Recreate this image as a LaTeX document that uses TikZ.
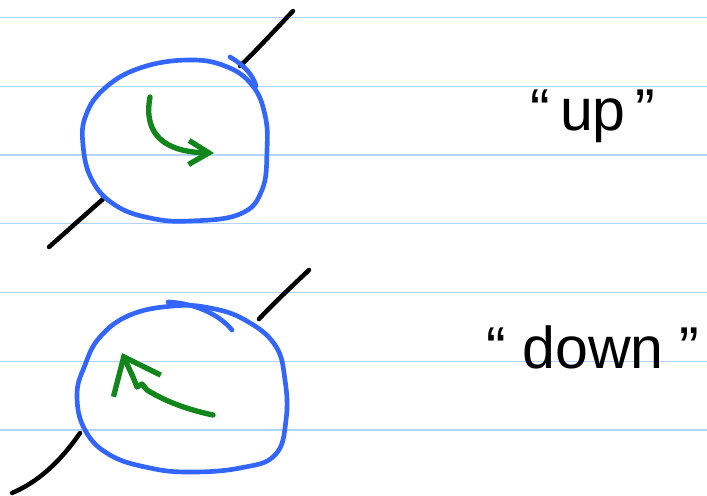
\documentclass[tikz,border=0pt]{standalone}
\usepackage{fontspec}
\setmainfont{Liberation Sans}
\usepackage{tikz}
\usetikzlibrary{arrows.meta}
\definecolor{ruleblue}{HTML}{B4D4FA}
\definecolor{penblue}{HTML}{3366FF}
\definecolor{pengreen}{HTML}{11861A}

\begin{document}
\begin{tikzpicture}[x=0.025cm, y=-0.025cm, line cap=round, line join=round,
    ruling/.style={draw=ruleblue, line width=1pt},
    loop/.style={draw=penblue, line width=3.3pt},
    axle/.style={draw=black, line width=3.2pt},
    spin/.style={draw=pengreen, line width=3.8pt},
    every node/.style={font=\fontsize{42}{50}\selectfont, inner sep=0pt}]
    \useasboundingbox[fill=white] (0,0) rectangle (707,495);
    \foreach \k in {0,...,6}
      \draw[ruling] (0,17.5+68.75*\k) -- (707,17.5+68.75*\k);

    \draw[axle] (293,11) .. controls (275,30) and (255,52) .. (240,66);
    \draw[axle] (103,199) -- (49,247);
    \draw[loop] plot[smooth cycle, tension=0.7] coordinates {(187,60) (140,68) (105,88) (86,115) (83,145) (92,180) (115,205) (150,218) (190,221) (240,214) (262,190) (267,150) (265,115) (252,85) (225,66)};
    \draw[loop] (230,57) .. controls (245,66) and (253,75) .. (256,86);
    \draw[spin, -{Straight Barb[length=5mm, width=6mm]}] (150,97) .. controls (143,135) and (165,152) .. (214,153);
    \node[anchor=base] (up) at (593,130) {``\,up\,''};

    \draw[axle] (309,270) .. controls (290,288) and (272,305) .. (259,319);
    \draw[axle] (80,433) .. controls (60,462) and (38,482) .. (12,493);
    \draw[loop] plot[smooth cycle, tension=0.7] coordinates {(173,306) (130,315) (100,337) (85,365) (77,395) (85,430) (110,455) (150,468) (190,472) (240,468) (275,455) (286,420) (285,380) (275,345) (245,320) (210,308)};
    \draw[loop] (168,302) .. controls (195,303) and (220,315) .. (232,330);
    \draw[spin, -{Straight Barb[length=8mm, width=13mm]}] (213,415) .. controls (180,408) and (160,398) .. (147,390) -- (142,384) -- (137,387) -- (133,377) -- (122,353);
    \node[anchor=base] (down) at (593,368) {``\;down\;''};
\end{tikzpicture}
\end{document}
